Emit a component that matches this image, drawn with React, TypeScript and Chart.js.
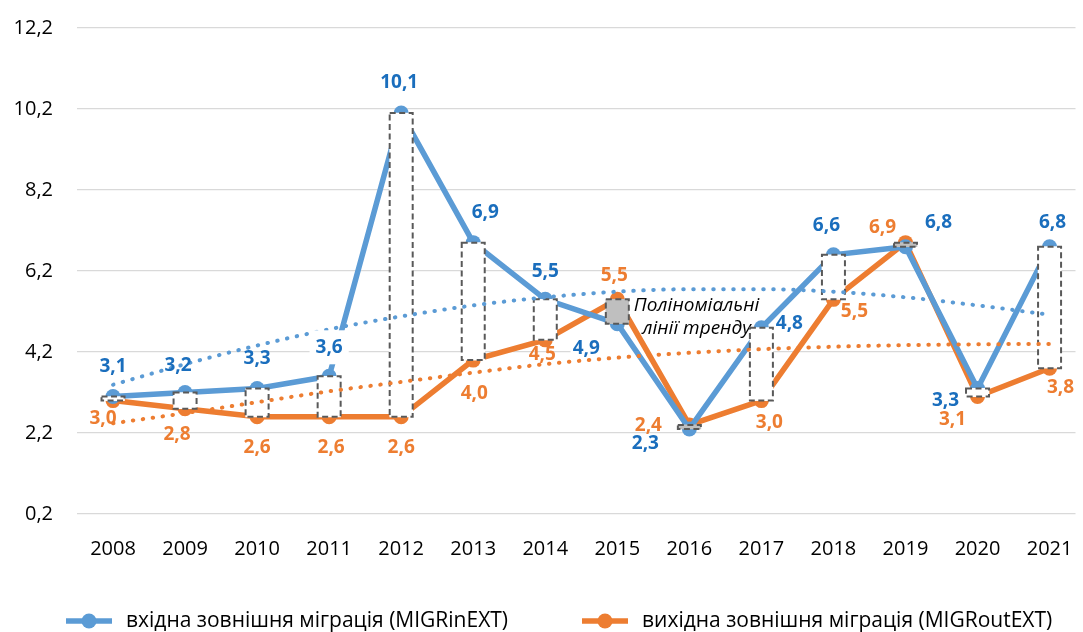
import React, { useEffect, useRef } from 'react';
import { Chart, registerables } from 'chart.js';

Chart.register(...registerables);

// ---- data ----
const years = ['2008', '2009', '2010', '2011', '2012', '2013', '2014', '2015', '2016', '2017', '2018', '2019', '2020', '2021'];
const migrIn = [3.1, 3.2, 3.3, 3.6, 10.1, 6.9, 5.5, 4.9, 2.3, 4.8, 6.6, 6.8, 3.3, 6.8];
const migrOut = [3.0, 2.8, 2.6, 2.6, 2.6, 4.0, 4.5, 5.5, 2.4, 3.0, 5.5, 6.9, 3.1, 3.8];
// polynomial trend lines at each year
const trendIn = [3.39, 3.9, 4.36, 4.76, 5.08, 5.35, 5.55, 5.69, 5.75, 5.75, 5.69, 5.55, 5.35, 5.12];
const trendOut = [2.44, 2.69, 2.96, 3.23, 3.46, 3.69, 3.9, 4.06, 4.18, 4.27, 4.33, 4.37, 4.39, 4.4];
const yTicks = [0.2, 2.2, 4.2, 6.2, 8.2, 10.2, 12.2];
const seriesNames = ['вхідна зовнішня міграція (MIGRinEXT)', 'вихідна зовнішня міграція (MIGRoutEXT)'];
const trendNote = ['Поліноміальні', 'лінії тренду'];

// ---- label placement (pixel offsets from each point) ----
const labelOffsetsIn: number[][] = [[0, -30], [-7, -27], [0, -30], [0, -29], [-2, -30], [12, -30], [0, -28], [-31, 25], [-44, 15], [28, -4], [-7, -29], [33, -24], [-32, 12], [3, -24]];
const labelOffsetsOut: number[][] = [[-10, 18], [-8, 26], [0, 31], [2, 31], [0, 31], [1, 33], [-3, 15], [-3, -24], [-41, 1], [8, 22], [21, 12], [-23, -15], [-25, 23], [11, 19]];
const labelBoxIn = [false, false, false, true, false, false, false, false, false, false, false, false, false, false];

const BLUE = '#5B9BD5';
const ORANGE = '#ED7D31';
const BLUE_TEXT = '#1A6EBD';
const ORANGE_TEXT = '#ED7D31';
const FONT = '"Open Sans", sans-serif';

const fmt = (v: number) => v.toFixed(1).replace('.', ',');

export default function App() {
  const ref = useRef<HTMLCanvasElement>(null);

  useEffect(() => {
    const canvas = ref.current!;
    const xy = (arr: number[]) => arr.map((v, i) => ({ x: i, y: v }));

    const annotationPlugin = {
      id: 'annot',
      beforeDatasetsDraw(chart: any) {
        const { ctx } = chart;
        const xs = chart.scales.x;
        const ys = chart.scales.y;
        const l = xs.getPixelForValue(6.35);
        const r = xs.getPixelForValue(8.87);
        const t = ys.getPixelForValue(5.9);
        const b = ys.getPixelForValue(4.05);
        ctx.save();
        ctx.fillStyle = '#FFFFFF';
        ctx.fillRect(l, t, r - l, b - t);
        ctx.fillStyle = '#000000';
        ctx.font = `italic 19px ${FONT}`;
        ctx.textAlign = 'center';
        ctx.textBaseline = 'middle';
        const cx = xs.getPixelForValue(8.1);
        ctx.fillText(trendNote[0], cx, ys.getPixelForValue(5.34));
        ctx.fillText(trendNote[1], cx, ys.getPixelForValue(4.77));
        ctx.restore();
      },
    };

    const dashedBarPlugin = {
      id: 'dashedBars',
      afterDatasetDraw(chart: any, args: any) {
        if (args.index !== 2) return;
        const { ctx } = chart;
        const meta = chart.getDatasetMeta(2);
        ctx.save();
        ctx.setLineDash([6, 3.5]);
        ctx.lineWidth = 2;
        ctx.strokeStyle = '#595959';
        meta.data.forEach((el: any) => {
          const p = el.getProps(['x', 'y', 'base', 'width'], true);
          const top = Math.min(p.y, p.base);
          const h = Math.abs(p.base - p.y);
          ctx.strokeRect(p.x - p.width / 2, top, p.width, h);
        });
        ctx.restore();
      },
    };

    const labelsPlugin = {
      id: 'valueLabels',
      afterDatasetsDraw(chart: any) {
        const { ctx } = chart;
        ctx.save();
        ctx.font = `bold 19px ${FONT}`;
        ctx.textAlign = 'center';
        ctx.textBaseline = 'middle';
        const sets = [
          { idx: 0, vals: migrIn, offs: labelOffsetsIn, color: BLUE_TEXT, box: labelBoxIn },
          { idx: 1, vals: migrOut, offs: labelOffsetsOut, color: ORANGE_TEXT, box: null as boolean[] | null },
        ];
        sets.forEach((s) => {
          const meta = chart.getDatasetMeta(s.idx);
          meta.data.forEach((el: any, i: number) => {
            const x = el.x + s.offs[i][0];
            const y = el.y + s.offs[i][1];
            const txt = fmt(s.vals[i]);
            if (s.box && s.box[i]) {
              const w = ctx.measureText(txt).width;
              ctx.fillStyle = '#FFFFFF';
              ctx.fillRect(x - w / 2 - 6, y - 17, w + 12, 34);
            }
            ctx.fillStyle = s.color;
            ctx.fillText(txt, x, y);
          });
        });
        ctx.restore();
      },
    };

    const legendPlugin = {
      id: 'customLegend',
      afterDraw(chart: any) {
        const { ctx } = chart;
        const items = [
          { x: 66, color: BLUE, text: seriesNames[0] },
          { x: 582, color: ORANGE, text: seriesNames[1] },
        ];
        const y = 621;
        ctx.save();
        items.forEach((it) => {
          ctx.strokeStyle = it.color;
          ctx.lineWidth = 5.5;
          ctx.lineCap = 'butt';
          ctx.beginPath();
          ctx.moveTo(it.x, y);
          ctx.lineTo(it.x + 46, y);
          ctx.stroke();
          ctx.fillStyle = it.color;
          ctx.beginPath();
          ctx.arc(it.x + 23, y, 7.5, 0, Math.PI * 2);
          ctx.fill();
          ctx.fillStyle = '#000000';
          ctx.font = `21px ${FONT}`;
          ctx.textAlign = 'left';
          ctx.textBaseline = 'middle';
          ctx.fillText(it.text, it.x + 60, y);
        });
        ctx.restore();
      },
    };

    const chart = new Chart(canvas, {
      type: 'line',
      data: {
        datasets: [
          {
            type: 'line',
            label: seriesNames[0],
            data: xy(migrIn),
            borderColor: BLUE,
            backgroundColor: BLUE,
            borderWidth: 5.5,
            pointRadius: 7.5,
            pointBorderWidth: 0,
            pointBackgroundColor: BLUE,
            tension: 0,
            order: 3,
          },
          {
            type: 'line',
            label: seriesNames[1],
            data: xy(migrOut),
            borderColor: ORANGE,
            backgroundColor: ORANGE,
            borderWidth: 5.5,
            pointRadius: 7.5,
            pointBorderWidth: 0,
            pointBackgroundColor: ORANGE,
            tension: 0,
            order: 3,
          },
          {
            type: 'bar',
            label: 'range',
            data: migrIn.map((v, i) => ({ x: i, y: [Math.min(v, migrOut[i]), Math.max(v, migrOut[i])] })),
            backgroundColor: migrIn.map((v, i) => (migrOut[i] > v ? '#BFBFBF' : '#FFFFFF')),
            borderWidth: 0,
            barThickness: 23,
            order: 2,
          },
          {
            type: 'line',
            label: 'trendIn',
            data: xy(trendIn),
            borderColor: BLUE,
            borderWidth: 4,
            borderDash: [0.5, 9.5],
            borderCapStyle: 'round',
            pointRadius: 0,
            cubicInterpolationMode: 'monotone',
            order: 1,
          },
          {
            type: 'line',
            label: 'trendOut',
            data: xy(trendOut),
            borderColor: ORANGE,
            borderWidth: 4,
            borderDash: [0.5, 9.5],
            borderCapStyle: 'round',
            pointRadius: 0,
            cubicInterpolationMode: 'monotone',
            order: 1,
          },
        ] as any,
      },
      options: {
        responsive: true,
        maintainAspectRatio: false,
        animation: false,
        layout: { padding: { top: 28, left: 0, right: 0, bottom: 0 } },
        plugins: {
          legend: { display: false },
          tooltip: { enabled: false },
        },
        scales: {
          x: {
            type: 'linear',
            offset: false,
            min: -0.5,
            max: 13.36,
            grid: { display: false, offset: false },
            border: { display: false },
            afterBuildTicks: (s: any) => {
              s.ticks = years.map((_, i) => ({ value: i }));
            },
            afterFit: (s: any) => {
              s.height = 118;
              s.paddingLeft = 0;
              s.paddingRight = 0;
            },
            ticks: {
              padding: 15,
              color: '#000000',
              font: { family: FONT, size: 20 },
              maxRotation: 0,
              autoSkip: false,
              callback: (v: any) => years[Math.round(Number(v))] ?? '',
            },
          },
          y: {
            min: 0.2,
            max: 12.2,
            afterBuildTicks: (s: any) => {
              s.ticks = yTicks.map((v) => ({ value: v }));
            },
            afterFit: (s: any) => {
              s.width = 77;
              s.paddingTop = 0;
              s.paddingBottom = 0;
            },
            grid: { color: '#D9D9D9', lineWidth: 1.3, drawTicks: false },
            border: { display: false },
            ticks: {
              padding: 24,
              color: '#000000',
              font: { family: FONT, size: 20 },
              callback: (v: any) => fmt(Number(v)),
            },
          },
        },
      } as any,
      plugins: [annotationPlugin, dashedBarPlugin, labelsPlugin, legendPlugin],
    });

    return () => chart.destroy();
  }, []);

  return (
    <div style={{ position: 'fixed', left: 0, top: 0, width: 1083, height: 632, background: '#FFFFFF' }}>
      <canvas ref={ref} />
    </div>
  );
}
